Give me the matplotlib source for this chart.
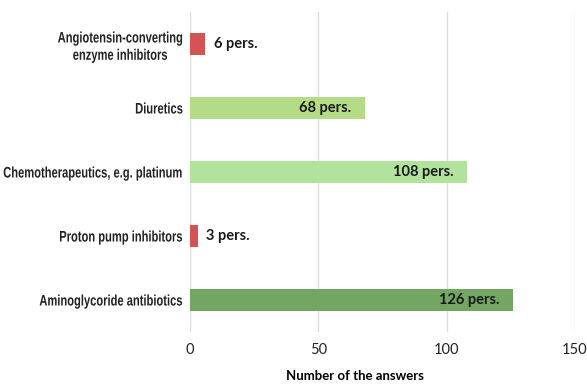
import matplotlib
matplotlib.use("Agg")
import matplotlib.pyplot as plt
from matplotlib.patheffects import AbstractPathEffect
from matplotlib.transforms import Affine2D

categories = [
    "Angiotensin-converting\nenzyme inhibitors",
    "Diuretics",
    "Chemotherapeutics, e.g. platinum",
    "Proton pump inhibitors",
    "Aminoglycoride antibiotics",
]
values = [6, 68, 108, 3, 126]
colors = ["#d65353", "#b4dc86", "#b2e39c", "#d65353", "#72a662"]
xticks = [0, 50, 100, 150]

W, H, DPI = 5.87, 3.85, 100


class Condense(AbstractPathEffect):
    """Narrow glyphs horizontally about a fixed display x (condensed face)."""

    def __init__(self, anchor_x, sx):
        super().__init__()
        self.anchor_x = anchor_x
        self.sx = sx

    def draw_path(self, renderer, gc, tpath, affine, rgbFace=None):
        squeeze = (Affine2D().translate(-self.anchor_x, 0)
                   .scale(self.sx, 1).translate(self.anchor_x, 0))
        renderer.draw_path(gc, tpath, affine + squeeze, rgbFace)


fig = plt.figure(figsize=(W, H), dpi=DPI)
ax = fig.add_axes([190 / 587, 1 - 332 / 385, 385 / 587, 320 / 385])

pos = list(range(len(categories)))
ax.barh(pos, values, height=0.34, color=colors, zorder=2)
ax.set_ylim(len(categories) - 0.5, -0.5)
ax.set_xlim(0, 150)

ax.set_xticks(xticks)
ax.set_xticklabels([str(t) for t in xticks], fontsize=10.5, family=["Lato", "DejaVu Sans"])
ax.set_yticks(pos)
ytick_pad = 5
ax.tick_params(axis="both", length=0, colors="#222222")
ax.tick_params(axis="y", pad=ytick_pad)
ax.tick_params(axis="x", pad=8)
ax.set_yticklabels(categories, fontsize=11, fontweight="bold",
                   family=["Liberation Sans", "DejaVu Sans"], linespacing=1.3)

anchor = ax.get_position().x0 * W * DPI - ytick_pad * DPI / 72
for lbl in ax.get_yticklabels():
    lbl.set_multialignment("center")
    lbl.set_path_effects([Condense(anchor, 0.73)])

ax.grid(axis="x", color="#dddddd", linewidth=1, zorder=0)
for s in ax.spines.values():
    s.set_visible(False)

for p, v in zip(pos, values):
    txt = f"{v} pers."
    inside = v > 30
    ax.annotate(txt, (v, p), xytext=(-10 if inside else 6, 0),
                textcoords="offset points",
                ha="right" if inside else "left", va="center",
                fontsize=10.5, fontweight="bold",
                family=["Lato", "DejaVu Sans"], color="#1a1a1a", zorder=3)

ax.set_xlabel("Number of the answers", fontsize=9.5, fontweight="bold",
              family=["Lato", "DejaVu Sans"], labelpad=13)
ax.xaxis.set_label_coords((355 - 190) / 385, -0.12)

fig.savefig("out.png", dpi=DPI)
